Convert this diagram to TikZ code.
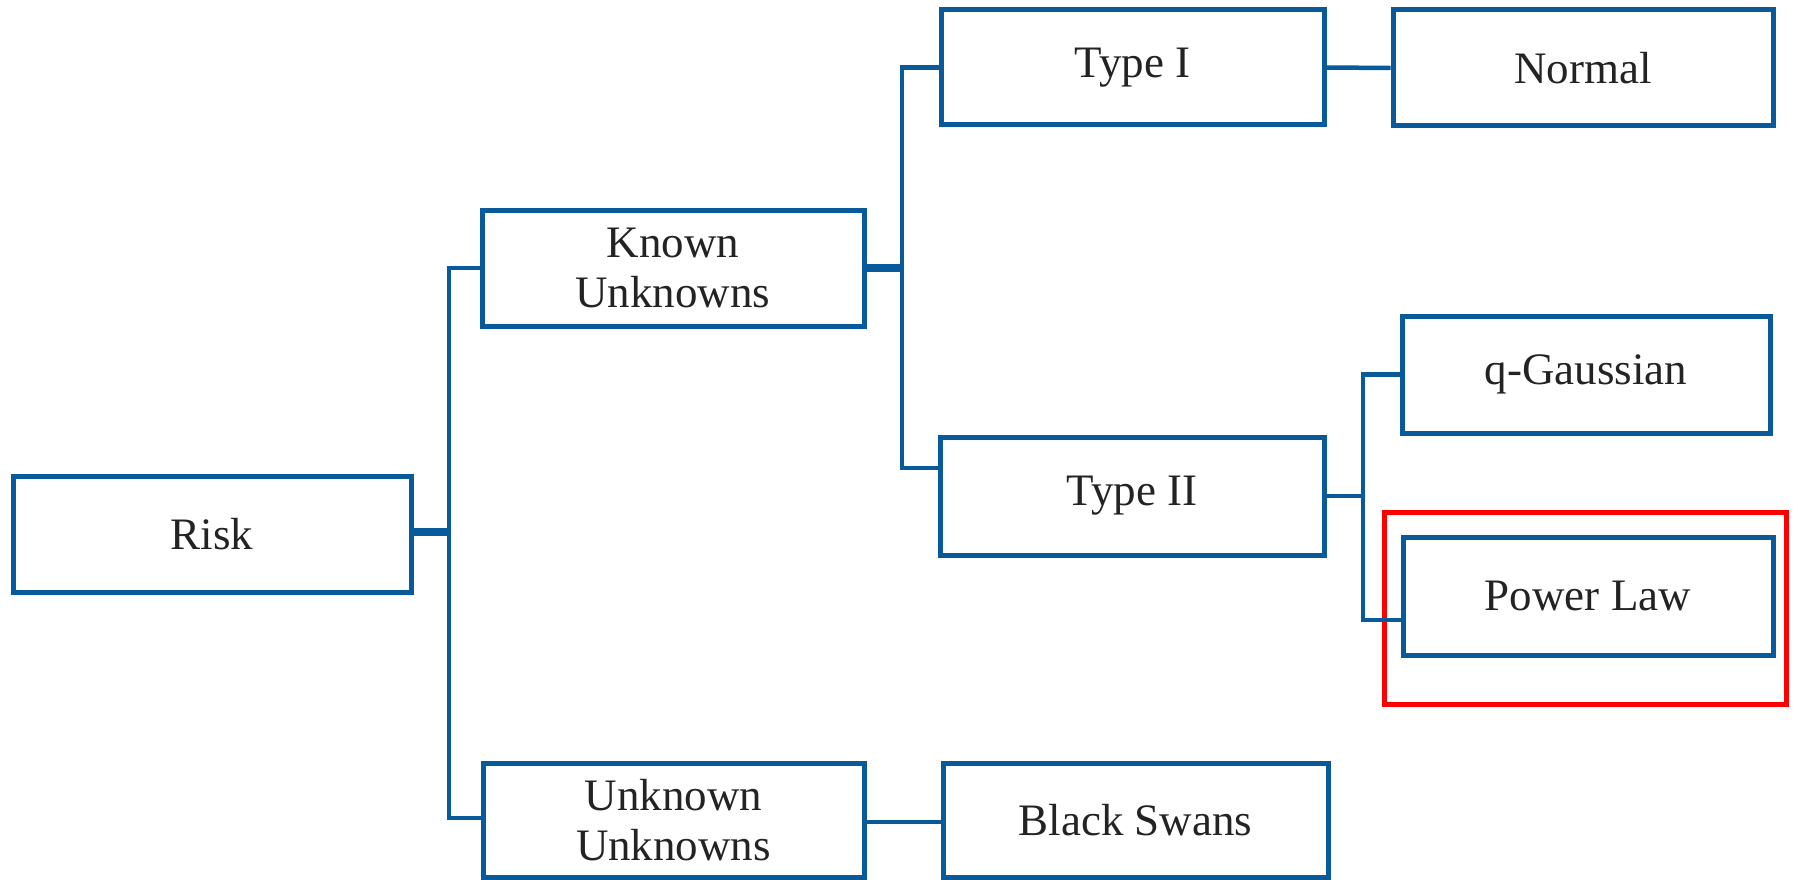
\documentclass[tikz,border=0pt]{standalone}
\usepackage{fontspec}
\setmainfont{Liberation Serif}
\definecolor{boxblue}{RGB}{8,90,155}
\definecolor{txt}{RGB}{35,35,35}
\begin{document}
\begin{tikzpicture}[x=1pt,y=-1pt,
  box/.style={draw=boxblue,line width=5pt,minimum height=116pt,inner sep=0pt,
    text=txt,font=\fontsize{45}{50}\selectfont,align=center},
  conn/.style={draw=boxblue,line width=4.5pt},
  thickconn/.style={draw=boxblue,line width=7.5pt}]
\useasboundingbox (0,0) rectangle (1793,880);
\node[box,minimum width=398pt] (risk) at (212,534) {Risk};
\node[box,minimum width=382pt] (ku) at (673,268) {Known\\Unknowns};
\node[box,minimum width=381pt,minimum height=114pt] (uu) at (673.5,820) {Unknown\\Unknowns};
\node[box,minimum width=383pt,minimum height=115pt] (t1) at (1132.5,67.5) {Type I};
\node[box,minimum width=380pt] (normal) at (1583,68) {Normal};
\node[box,minimum width=384pt,minimum height=118pt] (t2) at (1132,496) {Type II};
\node[box,minimum width=368pt,minimum height=117pt] (qg) at (1586,374.5) {q-Gaussian};
\node[box,minimum width=370pt,minimum height=118pt] (pl) at (1588,596) {Power Law};
\node[box,minimum width=385pt,minimum height=114pt] (bs) at (1135.5,820) {Black Swans};
\node[draw=red,line width=5pt,minimum width=402pt,minimum height=192pt,inner sep=0pt] (hl) at (1585,608) {};
% connectors
\coordinate (j1) at (449,532);
\coordinate (j2) at (902,268);
\coordinate (j3) at (1363,496);
\coordinate (t2in) at (940,468);
\coordinate (plin) at (1403,620);
\draw[thickconn] (risk.east |- j1) -- (j1);
\draw[conn,line cap=rect] (ku.west) -| (j1);
\draw[conn,line cap=rect] (uu.west |- 0,818) -| (j1);
\draw[thickconn] (ku.east) -- (j2);
\draw[conn,line cap=rect] (t1.west) -| (j2);
\draw[conn,line cap=rect] (t2in) -| (j2);
\draw[conn] (t1.east) -- (normal.west);
\draw[conn] (t2.east) -- (j3);
\draw[conn,line cap=rect] (qg.west) -| (j3);
\draw[conn,line cap=rect] (plin) -| (j3);
\draw[conn] (uu.east |- 0,822) -- (bs.west |- 0,822);
\end{tikzpicture}
\end{document}
